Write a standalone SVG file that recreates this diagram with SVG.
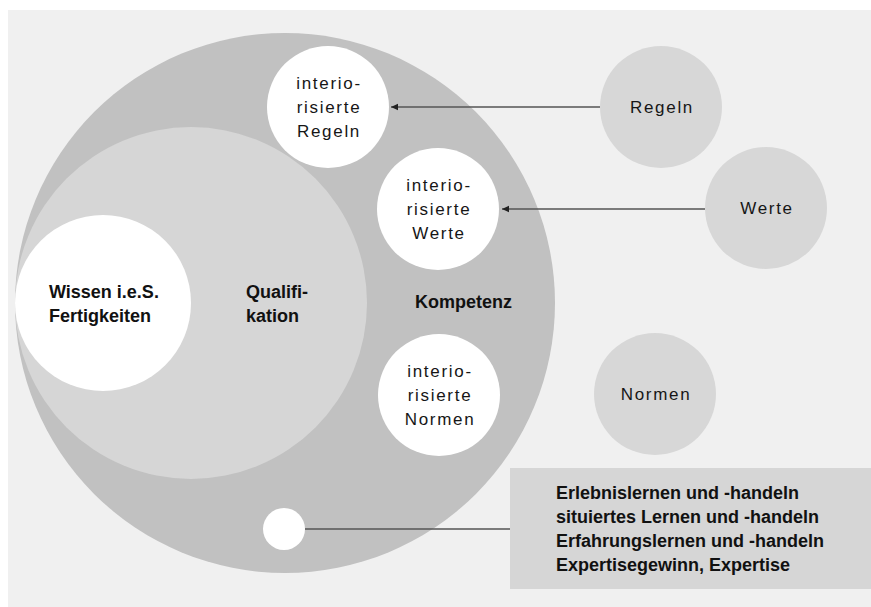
<svg xmlns="http://www.w3.org/2000/svg" width="871" height="607" viewBox="0 0 871 607">
  <style>
    .lbl { font-family: "Liberation Sans", Arial, sans-serif; font-size: 17px; letter-spacing: 1.7px; fill: #161616; text-anchor: middle; }
    .bold { font-family: "Liberation Sans", Arial, sans-serif; font-size: 18px; font-weight: bold; fill: #111111; }
    .white { fill: #ffffff; }
    .ext { fill: #d7d7d7; }
    .conn { stroke: #555555; stroke-width: 1.6; fill: none; }
  </style>
  <defs>
    <marker id="arrow" markerWidth="8" markerHeight="8" refX="7" refY="4" orient="auto" markerUnits="userSpaceOnUse">
      <path d="M0,0.8 L7,4 L0,7.2 Z" fill="#222222"/>
    </marker>
  </defs>
  <rect x="0" y="0" width="871" height="607" fill="#ffffff"/>
  <rect x="8" y="10" width="863" height="597" fill="#f0f0f0"/>

  <g id="kompetenz">
    <circle cx="285" cy="303" r="270" fill="#c1c1c1"/>
    <text class="bold" x="415" y="308">Kompetenz</text>
  </g>
  <g id="qualifikation">
    <circle cx="191" cy="303" r="176" fill="#d6d6d6"/>
    <text class="bold" x="246" y="298">Qualifi-</text>
    <text class="bold" x="246" y="322">kation</text>
  </g>
  <g id="wissen">
    <circle cx="103" cy="303" r="88" class="white"/>
    <text class="bold" x="49" y="298">Wissen i.e.S.</text>
    <text class="bold" x="49" y="322">Fertigkeiten</text>
  </g>

  <g id="int-regeln">
    <circle cx="328" cy="107" r="61" class="white"/>
    <text class="lbl" x="329" y="89">interio-</text>
    <text class="lbl" x="329" y="113">risierte</text>
    <text class="lbl" x="329" y="137">Regeln</text>
  </g>
  <g id="int-werte">
    <circle cx="438" cy="209" r="61" class="white"/>
    <text class="lbl" x="439" y="191">interio-</text>
    <text class="lbl" x="439" y="215">risierte</text>
    <text class="lbl" x="439" y="239">Werte</text>
  </g>
  <g id="int-normen">
    <circle cx="439" cy="395" r="61" class="white"/>
    <text class="lbl" x="440" y="377">interio-</text>
    <text class="lbl" x="440" y="401">risierte</text>
    <text class="lbl" x="440" y="425">Normen</text>
  </g>
  <g id="erfahrung">
    <circle cx="284" cy="529" r="21" class="white"/>
  </g>

  <g id="regeln">
    <circle cx="661" cy="107" r="61" class="ext"/>
    <text class="lbl" x="662" y="113">Regeln</text>
  </g>
  <g id="werte">
    <circle cx="766" cy="208" r="61" class="ext"/>
    <text class="lbl" x="767" y="214">Werte</text>
  </g>
  <g id="normen">
    <circle cx="655" cy="394" r="61" class="ext"/>
    <text class="lbl" x="656" y="400">Normen</text>
  </g>

  <g id="lernformen">
    <rect x="510" y="468" width="361" height="121" fill="#d6d6d6"/>
    <text class="bold" x="556" y="499">Erlebnislernen und -handeln</text>
    <text class="bold" x="556" y="523">situiertes Lernen und -handeln</text>
    <text class="bold" x="556" y="547">Erfahrungslernen und -handeln</text>
    <text class="bold" x="556" y="571">Expertisegewinn, Expertise</text>
  </g>

  <g id="connectors">
    <line class="conn" x1="600" y1="107" x2="391" y2="107" marker-end="url(#arrow)"/>
    <line class="conn" x1="705" y1="209" x2="502" y2="209" marker-end="url(#arrow)"/>
    <line class="conn" x1="305" y1="529" x2="510" y2="529"/>
  </g>
</svg>
